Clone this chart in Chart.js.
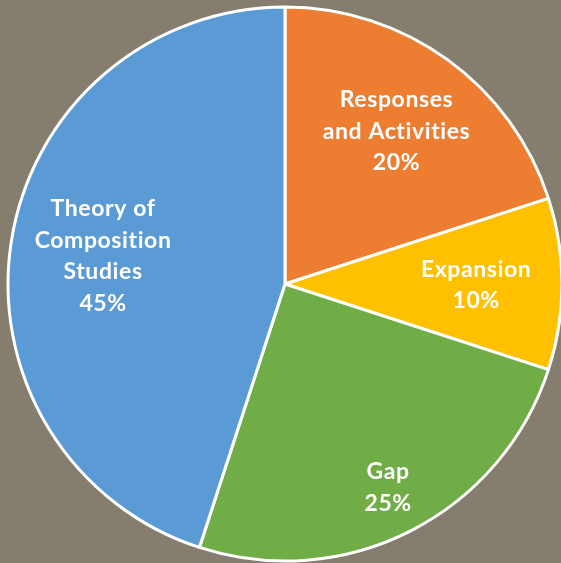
<!DOCTYPE html>
<html>
<head>
<meta charset="utf-8">
<script src="https://cdn.jsdelivr.net/npm/chart.js@4"></script>
<style>
  html, body { margin: 0; padding: 0; background: #857d6e; }
  #box { width: 561px; height: 563px; }
</style>
</head>
<body>
<div id="box"><canvas id="pieChart" width="561" height="563"></canvas></div>
<script>
// slices go clockwise from 12 o'clock
const categories = [
  ["Responses", "and Activities"],
  ["Expansion"],
  ["Gap"],
  ["Theory of", "Composition", "Studies"]
];
const shares = [20, 10, 25, 45];
const sliceColors = ["#ed7d31", "#ffc000", "#70ad47", "#5b9bd5"];

// how far out from the centre each label sits (fraction of radius)
const labelDistance = [0.685, 0.69, 0.82, 0.665];

const sliceLabels = {
  id: "sliceLabels",
  afterDatasetsDraw(chart) {
    const ctx = chart.ctx;
    const meta = chart.getDatasetMeta(0);
    const total = shares.reduce((a, b) => a + b, 0);
    ctx.save();
    ctx.fillStyle = "#ffffff";
    ctx.font = "bold 23px Lato";
    ctx.letterSpacing = "0.6px"; // also stops the "ti" ligature
    ctx.textAlign = "center";
    ctx.textBaseline = "middle";
    meta.data.forEach((arc, i) => {
      const mid = (arc.startAngle + arc.endAngle) / 2;
      const r = arc.outerRadius * labelDistance[i];
      const x = arc.x + Math.cos(mid) * r;
      const y = arc.y + Math.sin(mid) * r + 1;
      const lines = categories[i].concat([Math.round(shares[i] / total * 100) + "%"]);
      const lh = 31.5;
      const top = y - (lines.length - 1) * lh / 2;
      lines.forEach((t, k) => ctx.fillText(t, x, top + k * lh));
    });
    ctx.restore();
  }
};

new Chart(document.getElementById("pieChart").getContext("2d"), {
  type: "pie",
  data: {
    labels: categories.map(c => c.join(" ")),
    datasets: [{
      data: shares,
      backgroundColor: sliceColors,
      borderColor: "#ffffff",
      borderWidth: 3,
      hoverOffset: 0
    }]
  },
  options: {
    responsive: false,
    animation: false,
    radius: 277,
    layout: { padding: { left: 9, right: 0, top: 5, bottom: 0 } },
    plugins: {
      legend: { display: false },
      tooltip: { enabled: false }
    }
  },
  plugins: [sliceLabels]
});
</script>
</body>
</html>
